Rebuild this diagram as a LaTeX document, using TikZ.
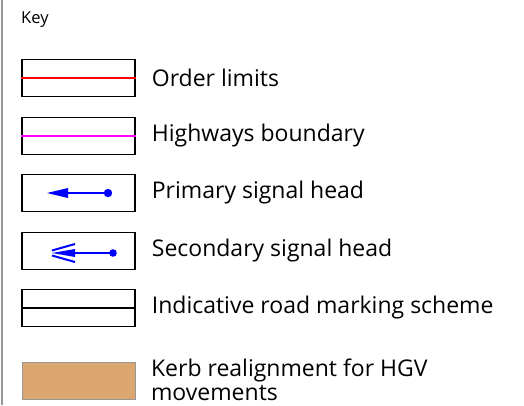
\documentclass[tikz,border=0pt]{standalone}
\usepackage{fontspec}
\setmainfont{Open Sans}
\usepackage{tikz}
\usetikzlibrary{positioning,calc}
\definecolor{orderred}{RGB}{255,0,0}
\definecolor{hwmagenta}{RGB}{255,0,255}
\definecolor{signal}{RGB}{0,0,255}
\definecolor{kerb}{RGB}{219,166,112}
\definecolor{rule}{RGB}{150,150,150}

\tikzset{
  keybox/.style={draw=black,line width=1.4pt,minimum width=113pt,minimum height=37pt,inner sep=0pt},
  keylabel/.style={font=\fontsize{23}{24.5}\selectfont,inner sep=0pt,align=left},
}

\begin{document}
\begin{tikzpicture}[x=1pt,y=-1pt]
    \useasboundingbox (0,0) rectangle (524,405);
    % Bord gauche
    \draw[rule,line width=2pt] (1.5,0) -- (1.5,405);

    % Titre
    \node[anchor=west,inner sep=0pt,font=\fontsize{16.5}{18}\selectfont] (key) at (21,20) {Key};

    % Limites
    \node[keybox] (orderbox) at (78.5,78) {};
    \draw[orderred,line width=1.2pt] (orderbox.west) -- (orderbox.east);
    \node[keylabel,right=16pt of orderbox] (orderlbl) {Order limits};

    % Limite voirie
    \node[keybox] (hwbox) at (78.5,136) {};
    \draw[hwmagenta,line width=1.2pt] (hwbox.west) -- (hwbox.east);
    \node[keylabel,right=16pt of hwbox] (hwlbl) {Highways boundary};

    % Feu principal
    \node[keybox] (primbox) at (78.5,193) {};
    \fill[signal] (108,193) circle (4.2);
    \draw[signal,line width=1.8pt] (108,193) -- (66,193);
    \fill[signal] (47,193) -- (68,188) -- (68,198) -- cycle;
    \node[keylabel,right=16pt of primbox] (primlbl) {Primary signal head};

    % Feu secondaire
    \node[keybox] (secbox) at (78.5,251) {};
    \fill[signal] (113,253) circle (3.8);
    \draw[signal,line width=1.8pt] (113,253) -- (73,253);
    \fill[signal] (52,253) -- (75,249) -- (75,257) -- cycle;
    \draw[signal,line width=2pt] (52,250.5) -- (75,244);
    \draw[signal,line width=2pt] (52,255.5) -- (75,262);
    \node[keylabel,right=16pt of secbox] (seclbl) {Secondary signal head};

    % Marquage
    \node[keybox] (markbox) at (78.5,308) {};
    \draw[black,line width=1.4pt] (markbox.west) -- (markbox.east);
    \node[keylabel,right=16pt of markbox] (marklbl) {Indicative road marking scheme};

    % Bordure
    \node[keybox,draw=rule,line width=0.8pt,fill=kerb] (kerbbox) at (79,381) {};
    \node[keylabel,right=15pt of kerbbox,yshift=1pt] (kerblbl) {Kerb realignment for HGV\\movements};
\end{tikzpicture}
\end{document}
